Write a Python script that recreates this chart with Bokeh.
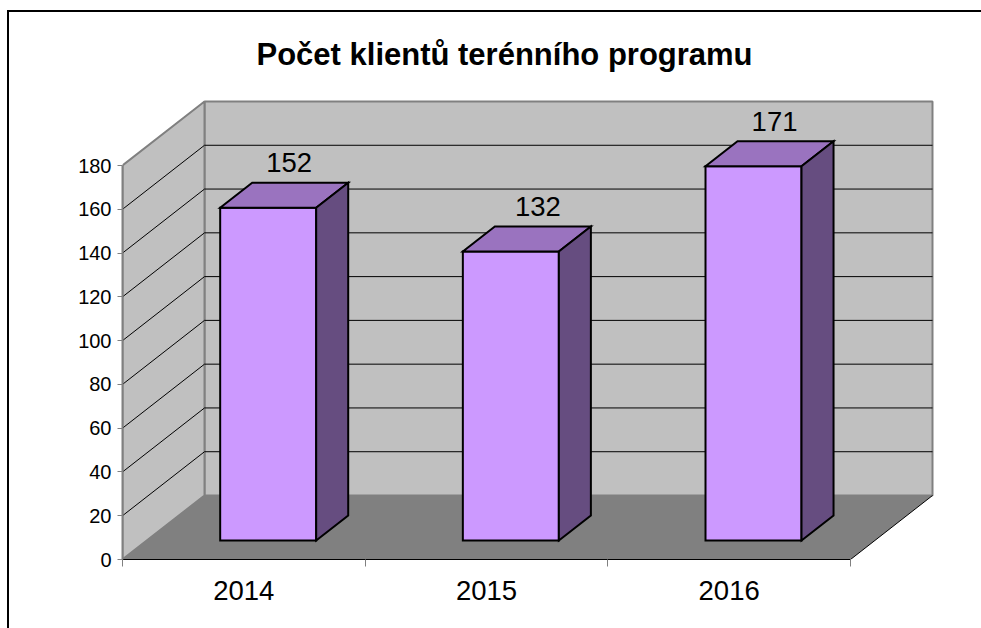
from bokeh.plotting import figure
from bokeh.embed import file_html
from bokeh.resources import INLINE
from bokeh.core.properties import value
from bokeh.models import FixedTicker, Title, Range1d

title = "Počet klientů terénního programu"
years = ["2014", "2015", "2016"]
clients = [152, 132, 171]
y_ticks = [0, 20, 40, 60, 80, 100, 120, 140, 160, 180]
y_max = 180

FONT = "Liberation Sans"
PX_PER_CAT = 728 / 3
PX_PER_UNIT = 394 / 180
DEPTH_X = 82 / PX_PER_CAT      # full depth of the 3D box, in category units
DEPTH_Y = 64 / PX_PER_UNIT     # full depth of the 3D box, in value units
BAR_W = 96 / PX_PER_CAT
BAR_D0 = 19 / 64               # depth fraction where bars start
BAR_D1 = 44 / 64               # depth fraction where bars end
LABEL_DX = [-11, -5, -11]      # hand placement of the value labels, in pixels


def X(c, d=0.0):
    return c + d * DEPTH_X


def Y(v, d=0.0):
    return v + d * DEPTH_Y


OX, OY = 7, 10            # page position of the figure's border
CX, CY = OX + 2, OY + 2   # page position of its canvas
W, H = 981 - OX, 628 - OY
BL = 122 - CX
BB = CY + H - 559
BT = 76 - CY
frame_w = W - BL
frame_h = H - BB - BT

p = figure(width=W, height=H, output_backend="svg", toolbar_location=None,
           x_range=Range1d(0, frame_w / PX_PER_CAT),
           y_range=Range1d(0, frame_h / PX_PER_UNIT),
           min_border_left=BL, min_border_bottom=BB, min_border_top=BT, min_border_right=0,
           background_fill_color="white", border_fill_color="white",
           outline_line_color=None,
           margin=(OY, 0, 0, OX),
           styles={"border-top": "2px solid black", "border-left": "2px solid black"})
p.grid.visible = False

t = Title(text=title, text_font=FONT, text_font_size="31px", text_font_style="bold",
          text_color="black", align="left", offset=134, standoff=9)
p.add_layout(t, "above")

# Axes
n = len(years)
p.xaxis.ticker = FixedTicker(ticks=[i + 0.5 for i in range(n)], minor_ticks=list(range(n + 1)))
p.xaxis.major_label_overrides = {i + 0.5: y for i, y in enumerate(years)}
p.xaxis.bounds = (0, n)
p.xaxis.axis_line_color = "black"
p.xaxis.axis_line_width = 1
p.xaxis.major_tick_line_color = None
p.xaxis.major_tick_out = 0
p.xaxis.major_tick_in = 0
p.xaxis.minor_tick_line_color = "#808080"
p.xaxis.minor_tick_out = 7
p.xaxis.minor_tick_in = 0
p.xaxis.major_label_standoff = 14
p.xaxis.major_label_text_font = FONT
p.xaxis.major_label_text_font_size = "27.5px"
p.xaxis.major_label_text_color = "black"

p.yaxis.ticker = FixedTicker(ticks=y_ticks)
p.yaxis.bounds = (0, y_max)
p.yaxis.axis_line_color = "#808080"
p.yaxis.axis_line_width = 2
p.yaxis.major_tick_line_color = "#808080"
p.yaxis.major_tick_out = 5
p.yaxis.major_tick_in = 0
p.yaxis.minor_tick_line_color = None
p.yaxis.major_label_standoff = 6
p.yaxis.major_label_text_font = FONT
p.yaxis.major_label_text_font_size = "20px"
p.yaxis.major_label_text_color = "black"

# Walls and floor
WALL, FLOOR, EDGE = "#C0C0C0", "#808080", "#808080"
p.patch([X(0, 1), X(n, 1), X(n, 1), X(0, 1)], [Y(0, 1), Y(0, 1), Y(y_max, 1), Y(y_max, 1)],
        fill_color=WALL, line_color=EDGE, line_width=2)
p.patch([X(0), X(0, 1), X(0, 1), X(0)], [Y(0), Y(0, 1), Y(y_max, 1), Y(y_max)],
        fill_color=WALL, line_color=EDGE, line_width=2)
p.patch([X(0), X(n), X(n, 1), X(0, 1)], [Y(0), Y(0), Y(0, 1), Y(0, 1)],
        fill_color=FLOOR, line_color=None)
p.line([X(n), X(n, 1)], [Y(0), Y(0, 1)], line_color="black", line_width=1)

# Gridlines
for v in y_ticks[1:-1]:
    p.line([X(0), X(0, 1), X(n, 1)], [Y(v), Y(v, 1), Y(v, 1)], line_color="black", line_width=1)

# Bars
for i, v in enumerate(clients):
    c = i + 0.5
    l, r = c - BAR_W / 2, c + BAR_W / 2
    p.patch([X(l, BAR_D0), X(r, BAR_D0), X(r, BAR_D0), X(l, BAR_D0)],
            [Y(0, BAR_D0), Y(0, BAR_D0), Y(v, BAR_D0), Y(v, BAR_D0)],
            fill_color="#CC99FF", line_color="black", line_width=2, line_join="miter")
    p.patch([X(l, BAR_D0), X(r, BAR_D0), X(r, BAR_D1), X(l, BAR_D1)],
            [Y(v, BAR_D0), Y(v, BAR_D0), Y(v, BAR_D1), Y(v, BAR_D1)],
            fill_color="#9A73BF", line_color="black", line_width=2, line_join="miter")
    p.patch([X(r, BAR_D0), X(r, BAR_D1), X(r, BAR_D1), X(r, BAR_D0)],
            [Y(0, BAR_D0), Y(0, BAR_D1), Y(v, BAR_D1), Y(v, BAR_D0)],
            fill_color="#664D80", line_color="black", line_width=2, line_join="miter")
    p.text([X(c, BAR_D1)], [Y(v, BAR_D1)], text=[str(v)], text_font=value(FONT),
           text_font_size="27.5px", text_color="black", text_align="center",
           text_baseline="alphabetic", x_offset=LABEL_DX[i], y_offset=-20)

open("out.html", "w").write(file_html(p, INLINE))
